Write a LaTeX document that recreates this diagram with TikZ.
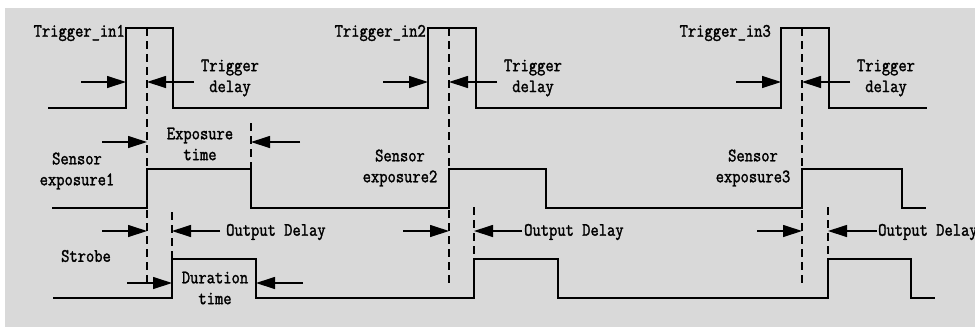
\documentclass[tikz,border=0pt]{standalone}
\usepackage{fontspec}
\usetikzlibrary{arrows.meta}
\newfontfamily\labelfont[FakeStretch=0.85,FakeBold=1.6]{Latin Modern Mono}
\definecolor{panel}{RGB}{217,217,217}
\tikzset{
  signal/.style={line width=1.8bp, line join=miter},
  marker/.style={line width=1.2bp, dash pattern=on 8bp off 5bp},
  delay/.style={line width=1.2bp, -{Triangle[length=19bp,width=12bp]}},
  txt/.style={inner sep=0pt, align=center, font={\labelfont\fontsize{19}{21}\selectfont}}
}
\begin{document}
\begin{tikzpicture}[x=1bp, y=-1bp]
\useasboundingbox (0, 0) rectangle (975, 327);
\fill[panel] (5, 8) rectangle (975, 327);
\draw[signal] (48, 108) -- (126, 108) -- (126, 28) -- (173, 28) -- (173, 108)
  -- (428, 108) -- (428, 28) -- (476, 28) -- (476, 108)
  -- (781, 108) -- (781, 28) -- (829, 28) -- (829, 108) -- (927, 108);
\draw[signal] (52, 208) -- (147, 208) -- (147, 169) -- (251, 169) -- (251, 208)
  -- (449, 208) -- (449, 169) -- (546, 169) -- (546, 208)
  -- (802, 208) -- (802, 169) -- (902, 169) -- (902, 208) -- (926, 208);
\draw[signal] (53, 298) -- (172, 298) -- (172, 259) -- (256, 259) -- (256, 298)
  -- (474, 298) -- (474, 259) -- (558, 259) -- (558, 298)
  -- (828, 298) -- (828, 259) -- (911, 259) -- (911, 298) -- (935, 298);
\draw[marker] (147, 28) -- (147, 283);
\draw[marker] (449, 28) -- (449, 285);
\draw[marker] (802, 28) -- (802, 285);
\draw[marker] (251, 123) -- (251, 169);
\draw[marker] (172, 212) -- (172, 259);
\draw[marker] (474, 207) -- (474, 259);
\draw[marker] (828, 207) -- (828, 259);
\node[txt, anchor=east] (trig1) at (125, 33) {Trigger\_in1};
\node[txt, anchor=east] (trig2) at (426, 33) {Trigger\_in2};
\node[txt, anchor=east] (trig3) at (771, 33) {Trigger\_in3};
\draw[delay] (81, 82) -- (126, 82);
\draw[delay] (194, 82) -- (147, 82);
\node[txt] (tdel1) at (230, 78) {Trigger\\delay};
\draw[delay] (383, 82) -- (428, 82);
\draw[delay] (497, 82) -- (449, 82);
\node[txt] (tdel2) at (533, 78) {Trigger\\delay};
\draw[delay] (736, 82) -- (781, 82);
\draw[delay] (850, 82) -- (802, 82);
\node[txt] (tdel3) at (886, 78) {Trigger\\delay};
\draw[delay] (102, 142) -- (147, 142);
\draw[delay] (300, 142) -- (251, 142);
\node[txt] (expt) at (200, 144) {Exposure\\time};
\node[txt] (sens1) at (77, 171) {Sensor\\exposure1};
\node[txt] (sens2) at (400, 168) {Sensor\\exposure2};
\node[txt] (sens3) at (753, 168) {Sensor\\exposure3};
\draw[delay] (102, 231) -- (147, 231);
\draw[delay] (220, 231) -- (172, 231);
\node[txt, anchor=west] (odel1) at (226, 232) {Output Delay};
\draw[delay] (403, 231) -- (449, 231);
\draw[delay] (522, 231) -- (474, 231);
\node[txt, anchor=west] (odel2) at (524, 232) {Output Delay};
\draw[delay] (757, 231) -- (802, 231);
\draw[delay] (877, 231) -- (828, 231);
\node[txt, anchor=west] (odel3) at (878, 232) {Output Delay};
\node[txt] (strobe) at (86, 256) {Strobe};
\draw[delay] (127, 283) -- (172, 283);
\draw[delay] (303, 283) -- (256, 283);
\node[txt] (dur) at (215, 288) {Duration\\time};
\end{tikzpicture}
\end{document}
